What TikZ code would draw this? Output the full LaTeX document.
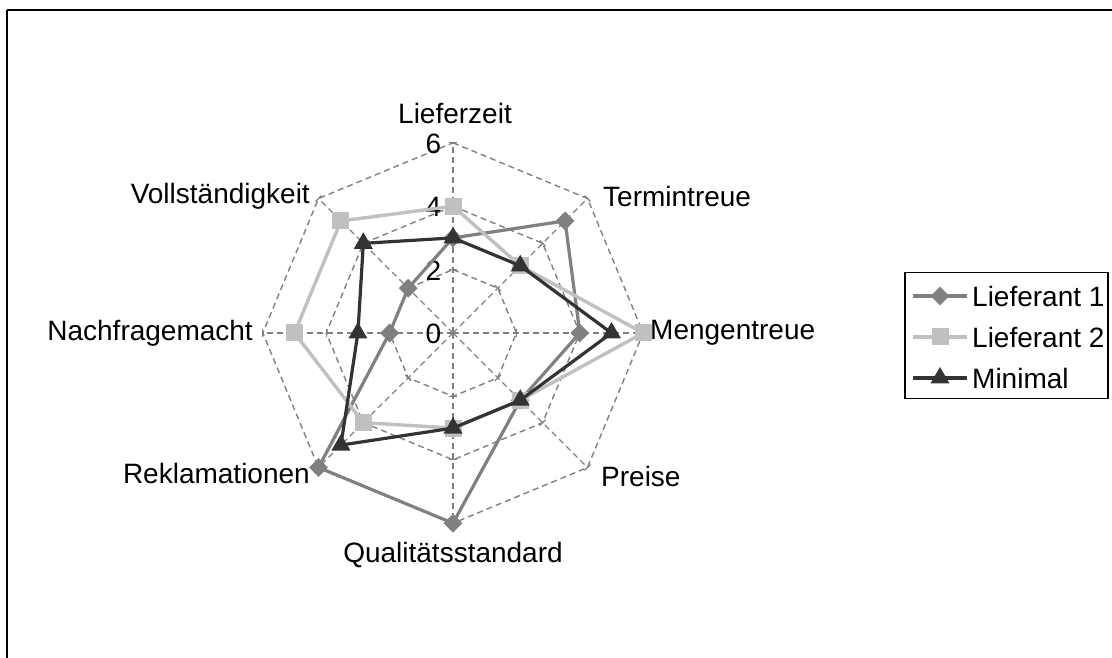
\documentclass[tikz,border=0pt]{standalone}
\usepackage{fontspec}
\setmainfont{Liberation Sans}
\usetikzlibrary{shapes.geometric,calc}
\definecolor{serA}{HTML}{808080}
\definecolor{serB}{HTML}{C0C0C0}
\definecolor{serC}{HTML}{333333}
\definecolor{gridcol}{HTML}{808080}
\begin{document}
\begin{tikzpicture}[x=1pt,y=1pt,
  every node/.style={font=\fontsize{28}{32}\selectfont, inner sep=0pt},
  gridline/.style={draw=gridcol, line width=1.4pt, dash pattern=on 6pt off 4pt},
  tickline/.style={draw=gridcol, line width=1.2pt},
  lineA/.style={draw=serA, line width=3.2pt, line join=round},
  lineB/.style={draw=serB, line width=3.4pt, line join=round},
  lineC/.style={draw=serC, line width=3.2pt, line join=round},
  markA/.style={diamond, fill=serA, minimum size=19pt, inner sep=0pt},
  markB/.style={rectangle, fill=serB, minimum size=17pt, inner sep=0pt},
  markC/.style={regular polygon, regular polygon sides=3, fill=serC, minimum size=22pt, inner sep=0pt},
  catlabel/.style={text=black},
]
\useasboundingbox (0,0) rectangle (1112,657);
\clip (0,0) rectangle (1112,657);

% chart area frame (continues past the right and bottom edges)
\draw[line width=2pt] (7,647) -- (1140,647);
\draw[line width=2pt] (7,647) -- (7,-20);

% ---------- radar plot ----------
\begin{scope}[shift={(453,324)}, x=31.7pt, y=31.7pt]
  \coordinate (ctr) at (0,0);
  % rings at 2, 4, 6
  \foreach \r in {2,4,6}
    \draw[gridline] (90:\r) -- (45:\r) -- (0:\r) -- (-45:\r) -- (-90:\r)
      -- (-135:\r) -- (180:\r) -- (135:\r) -- cycle;
  % spokes
  \foreach \a [count=\k] in {90,45,0,-45,-90,-135,180,135} {
    \coordinate (spk\k) at (\a:6);
    \draw[gridline] (ctr) -- (spk\k);
    \foreach \r in {2,4,6}
      \draw[tickline] ($(\a:\r)+(\a+90:0.13)$) -- ($(\a:\r)+(\a-90:0.13)$);
  }
  % value axis labels
  \foreach \r in {0,2,4,6}
    \node[anchor=east] (val\r) at (-0.37,\r-0.02) {\r};

  % data points
  \foreach \v [count=\i] in {3,5,4,3,6,6,2,2} {
    \pgfmathsetmacro\ang{135-45*\i}
    \coordinate (pa\i) at (\ang:\v);
  }
  \foreach \v [count=\i] in {4,3,6,3,3,4,5,5} {
    \pgfmathsetmacro\ang{135-45*\i}
    \coordinate (pb\i) at (\ang:\v);
  }
  \foreach \v [count=\i] in {3,3,5,3,3,5,3,4} {
    \pgfmathsetmacro\ang{135-45*\i}
    \coordinate (pc\i) at (\ang:\v);
  }
\end{scope}

% series: Lieferant 1
\draw[lineA] (pa1) -- (pa2) -- (pa3) -- (pa4) -- (pa5) -- (pa6) -- (pa7) -- (pa8) -- cycle;
\foreach \i in {1,...,8} \node[markA] (ma\i) at (pa\i) {};
% series: Lieferant 2
\draw[lineB] (pb1) -- (pb2) -- (pb3) -- (pb4) -- (pb5) -- (pb6) -- (pb7) -- (pb8) -- cycle;
\foreach \i in {1,...,8} \node[markB] (mb\i) at (pb\i) {};
% series: Minimal
\draw[lineC] (pc1) -- (pc2) -- (pc3) -- (pc4) -- (pc5) -- (pc6) -- (pc7) -- (pc8) -- cycle;
\foreach \i in {1,...,8} \node[markC] (mc\i) at (pc\i) {};

% category labels
\node[catlabel] (cat1) at (455,544) {Lieferzeit};
\node[catlabel, anchor=west] (cat2) at (603,461) {Termintreue};
\node[catlabel, anchor=west] (cat3) at (650,324) {Mengentreue};
\node[catlabel, anchor=west] (cat4) at (601,181) {Preise};
\node[catlabel] (cat5) at (453,102) {Qualitätsstandard};
\node[catlabel, anchor=east] (cat6) at (310,184) {Reklamationen};
\node[catlabel, anchor=east] (cat7) at (253,324) {Nachfragemacht};
\node[catlabel, anchor=east] (cat8) at (310,461) {Vollständigkeit};

% ---------- legend ----------
\node[draw=black, line width=1.5pt, minimum width=203pt, minimum height=126pt, anchor=north west] (legbox) at (904,385) {};
\coordinate (la0) at (913,361); \coordinate (la1) at (967,361);
\coordinate (lb0) at (913,320); \coordinate (lb1) at (967,320);
\coordinate (lc0) at (913,279); \coordinate (lc1) at (967,279);
\draw[lineA] (la0) -- (la1);
\node[markA] (lgma) at ($(la0)!0.5!(la1)$) {};
\draw[lineB] (lb0) -- (lb1);
\node[markB] (lgmb) at ($(lb0)!0.5!(lb1)$) {};
\draw[lineC] (lc0) -- (lc1);
\node[markC] (lgmc) at ($(lc0)!0.5!(lc1)$) {};
\node[anchor=west] (lta) at (972,361) {Lieferant 1};
\node[anchor=west] (ltb) at (972,320) {Lieferant 2};
\node[anchor=west] (ltc) at (972,279) {Minimal};
\end{tikzpicture}
\end{document}
